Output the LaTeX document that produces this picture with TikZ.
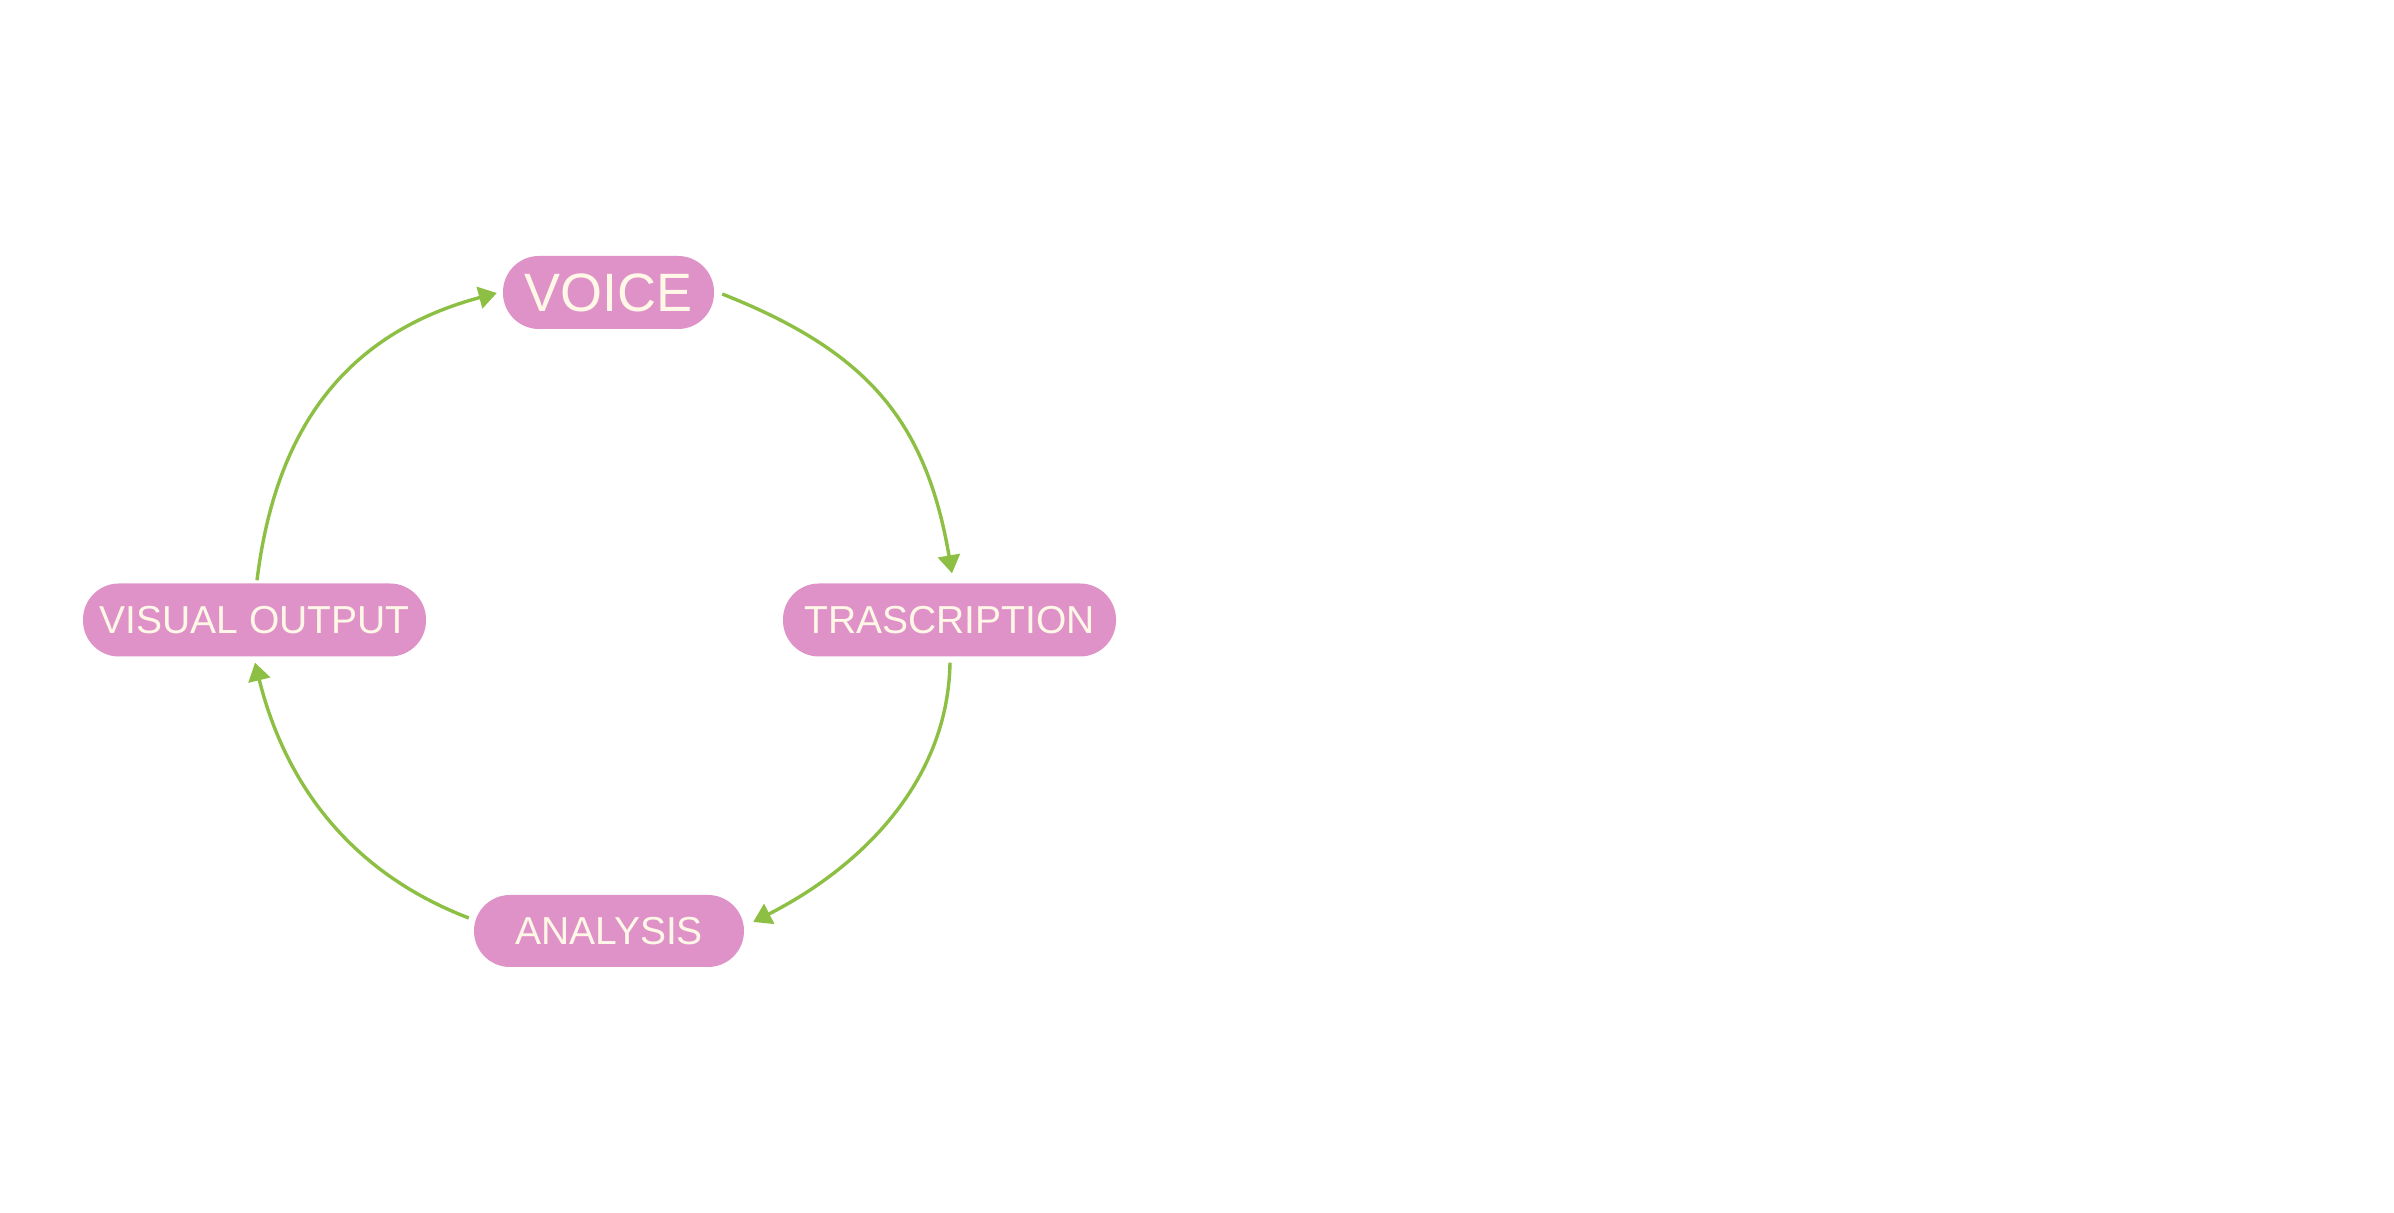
\documentclass[tikz,border=0pt]{standalone}
\usepackage{fontspec}
\setmainfont{Liberation Sans}
\usetikzlibrary{arrows.meta}
\definecolor{pillpink}{HTML}{DF92C8}
\definecolor{pilltext}{HTML}{FFF8E7}
\definecolor{arrowgreen}{HTML}{8DBF45}
\tikzset{
  pill/.style={draw=none, fill=pillpink, text=pilltext, rounded corners=36pt,
    inner sep=0pt, minimum height=73pt, font=\fontsize{39}{40}\selectfont},
  bigpill/.style={pill, font=\fontsize{54}{56}\selectfont},
  flow/.style={draw=arrowgreen, line width=3.4pt,
    -{Triangle[length=18pt,width=22pt]}}
}
\begin{document}
\begin{tikzpicture}[x=1pt,y=1pt]
\useasboundingbox[fill=white] (0,0) rectangle (2394,1213);
\node[bigpill, minimum width=211pt] (voice) at (608.5,920.5) {VOICE};
\node[pill, minimum width=333pt] (trans) at (949.5,593) {TRASCRIPTION};
\node[pill, minimum width=343pt] (vis) at (254.5,593) {VISUAL OUTPUT};
\node[pill, minimum width=270pt, minimum height=72pt] (ana) at (609,282) {ANALYSIS};
\draw[flow] ([shift={(8,-1.5)}]voice.east) to[out=-21.6,in=99.7,looseness=1.1] ([shift={(2.5,10)}]trans.north);
\draw[flow] ([shift={(0.5,-6)}]trans.south) to[out=-91,in=27,looseness=0.94] ([shift={(9,9)}]ana.east);
\draw[flow] ([shift={(-5,13)}]ana.west) to[out=159,in=-76,looseness=0.97] ([shift={(0.5,-6)}]vis.south);
\draw[flow] ([shift={(2.5,3)}]vis.north) to[out=83,in=-165,looseness=1.06] ([shift={(-6,-0.5)}]voice.west);
\end{tikzpicture}
\end{document}
